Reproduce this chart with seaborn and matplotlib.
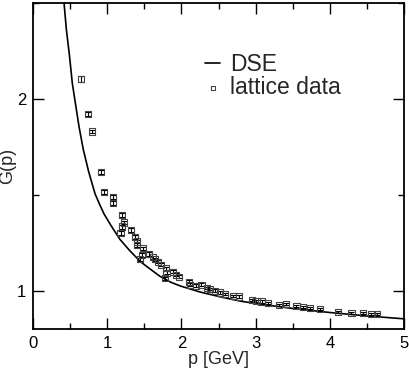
import numpy as np
import pandas as pd
import matplotlib
matplotlib.use("Agg")
import matplotlib.pyplot as plt
import seaborn as sns
from matplotlib.ticker import MultipleLocator

# DSE curve
p_dse = [0.40, 0.418, 0.45, 0.49, 0.53, 0.566, 0.62, 0.678, 0.75, 0.836, 0.903, 0.957,
         1.05, 1.17, 1.30, 1.442, 1.57, 1.71, 1.85, 1.98, 2.25, 2.52, 2.80, 3.00,
         3.50, 4.00, 4.50, 5.00]
g_dse = [2.58, 2.50, 2.36, 2.23, 2.08, 1.99, 1.855, 1.735, 1.62, 1.505, 1.445, 1.40,
         1.34, 1.268, 1.21, 1.153, 1.115, 1.075, 1.045, 1.025, 0.993, 0.968, 0.945, 0.933,
         0.907, 0.886, 0.868, 0.853]

# lattice data
p_lat = [0.643, 0.745, 0.79, 0.916, 0.96, 1.074, 1.074, 1.18, 1.195, 1.195, 1.226, 1.317,
         1.375, 1.406, 1.406, 1.442, 1.465, 1.487, 1.568, 1.613, 1.644, 1.689, 1.72, 1.78,
         1.79, 1.80, 1.883, 1.927, 1.972, 2.107, 2.116, 2.197, 2.27, 2.34, 2.385, 2.45,
         2.52, 2.59, 2.69, 2.78, 2.947, 3.01, 3.08, 3.17, 3.31, 3.41, 3.55, 3.64, 3.73,
         3.87, 4.11, 4.29, 4.45, 4.56, 4.64]
g_lat = [2.103, 1.922, 1.83, 1.62, 1.516, 1.487, 1.459, 1.30, 1.395, 1.334, 1.355, 1.317,
         1.279, 1.256, 1.238, 1.164, 1.186, 1.221, 1.191, 1.174, 1.164, 1.151, 1.134, 1.065,
         1.117, 1.094, 1.099, 1.082, 1.073, 1.047, 1.03, 1.025, 1.03, 1.012, 1.007, 1.0,
         0.99, 0.983, 0.972, 0.969, 0.951, 0.946, 0.943, 0.934, 0.925, 0.93, 0.92, 0.913,
         0.908, 0.903, 0.89, 0.885, 0.882, 0.88, 0.878]
g_err = [0.016, 0.012, 0.01, 0.01, 0.01, 0.01, 0.01, 0.01, 0.01, 0.01, 0.01, 0.01,
         0.01, 0.008, 0.008, 0.008, 0.008, 0.008, 0.008, 0.008, 0.008, 0.008, 0.008, 0.008,
         0.008, 0.008, 0.008, 0.008, 0.008, 0.008, 0.008, 0.008, 0.008, 0.006, 0.006, 0.006,
         0.006, 0.006, 0.006, 0.006, 0.006, 0.006, 0.006, 0.006, 0.006, 0.006, 0.006, 0.006,
         0.006, 0.006, 0.006, 0.006, 0.006, 0.006, 0.006]

sns.set_style("ticks")
plt.rcParams['font.family'] = ['Liberation Sans', 'DejaVu Sans']

dse = pd.DataFrame({"p": p_dse, "G": g_dse})
lat = pd.DataFrame({"p": p_lat, "G": g_lat, "err": g_err})

fig = plt.figure(figsize=(4.09, 3.71), dpi=100)
ax = fig.add_axes([0.0807, 0.1132, 0.9073, 0.8788])

sns.lineplot(data=dse, x="p", y="G", ax=ax, color="black", lw=1.2, label="DSE")
ax.errorbar(lat["p"], lat["G"], yerr=lat["err"], fmt="none", ecolor="black",
            elinewidth=0.8, capsize=2.4, capthick=0.8)
sns.scatterplot(data=lat, x="p", y="G", ax=ax, marker="s", s=20, facecolor="none",
                edgecolor="#444444", linewidth=0.8, label="lattice data", zorder=3)

ax.set_xlim(0, 5)
ax.set_ylim(0.8, 2.5)
ax.xaxis.set_major_locator(MultipleLocator(1))
ax.xaxis.set_minor_locator(MultipleLocator(0.5))
ax.yaxis.set_major_locator(MultipleLocator(1))
ax.yaxis.set_minor_locator(MultipleLocator(0.5))
ax.tick_params(which="both", direction="in", top=True, right=True, width=1,
               labelsize=12, colors="black", pad=5)
ax.tick_params(which="major", length=8)
ax.tick_params(which="minor", length=4)
for s in ax.spines.values():
    s.set_linewidth(1.3)
    s.set_color("black")

ax.set_xlabel("p [GeV]", fontsize=13, labelpad=0)
ax.set_ylabel("G(p)", fontsize=13)
ax.yaxis.set_label_coords(-0.045, 0.5)

leg = ax.legend(loc="upper left", bbox_to_anchor=(0.44, 0.875), frameon=False,
                fontsize=16.5, handlelength=0.65, handletextpad=0.44, labelspacing=0.0,
                borderaxespad=0, markerscale=0.6)

fig.savefig("out.png", dpi=100)
